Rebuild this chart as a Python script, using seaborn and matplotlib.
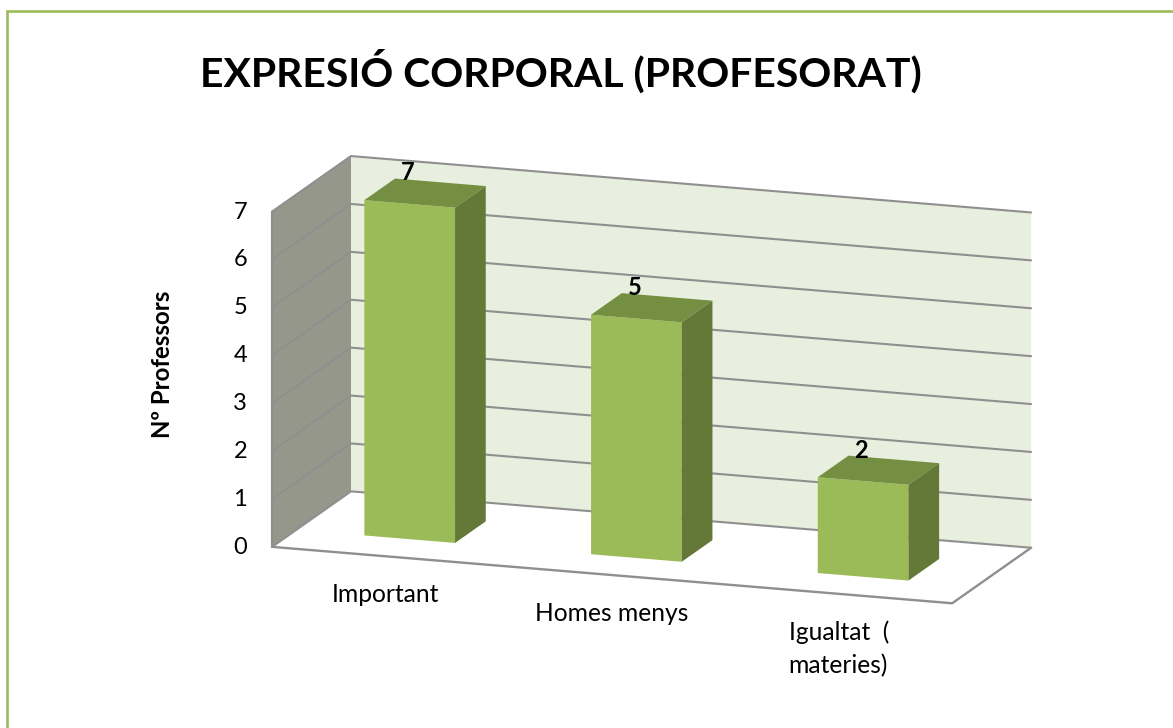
import matplotlib
matplotlib.use('Agg')
import matplotlib.pyplot as plt
import numpy as np
import pandas as pd
import seaborn as sns
from matplotlib.transforms import Affine2D

# dades
categories = ['Important', 'Homes menys', 'Igualtat  (\nmateries)']
valors = [7, 5, 2]
ticks_y = [0, 1, 2, 3, 4, 5, 6, 7]
titol = 'EXPRESIÓ CORPORAL (PROFESORAT)'
etiqueta_y = 'Nº Professors'

# colors
VERD = '#9BBB59'
VERD_TOP = '#758F42'
VERD_SIDE = '#647837'
PARET = '#E9EFDE'
PARET_ESQ = '#95978B'
GRIS = '#8F8F8F'

# projeccio falsa 3D -> pixels de la imatge
X0, Y0 = 409.7, 539.2
DX, DY = 226.7, 18.8
UNIT = 47.9
PROF_X, PROF_Y = 30.7, -21.6
AMPLE = 0.4
D_FRONT = -0.79
D_BACK = 1.78


def proj(c, v, d=0.0):
    return (X0 + DX * c + PROF_X * d, Y0 + DY * c - UNIT * v + PROF_Y * d)


sns.set_theme(style='white')
plt.rcParams['font.family'] = ['Lato', 'DejaVu Sans']

fig = plt.figure(figsize=(11.73, 7.28), dpi=100, facecolor='white')
ax = fig.add_axes([0, 0, 1, 1])

df = pd.DataFrame({'categoria': categories, 'valor': valors})
sns.barplot(data=df, x='categoria', y='valor', ax=ax, color=VERD, saturation=1,
            width=AMPLE, linewidth=0, zorder=3)

ax.set_xlim(0, 1173)
ax.set_ylim(728, 0)
ax.axis('off')

# cara frontal: les barres de seaborn inclinades amb la mateixa projeccio
cisalla = Affine2D(np.array([[DX, 0, X0], [DY, -UNIT, Y0], [0, 0, 1]])) + ax.transData
for barra in ax.patches:
    barra.set_transform(cisalla)

n = len(categories)
ini, fi = -0.5, n - 0.5
vmax = max(ticks_y)

# parets i terra
ax.fill(*zip(proj(ini, 0, D_BACK), proj(fi, 0, D_BACK), proj(fi, vmax, D_BACK), proj(ini, vmax, D_BACK)),
        color=PARET, lw=0, zorder=1)
ax.fill(*zip(proj(ini, 0, D_FRONT), proj(ini, 0, D_BACK), proj(ini, vmax, D_BACK), proj(ini, vmax, D_FRONT)),
        color=PARET_ESQ, lw=0, zorder=1)

for t in ticks_y:
    ax.plot(*zip(proj(ini, t, D_FRONT), proj(ini, t, D_BACK), proj(fi, t, D_BACK)),
            color=GRIS, lw=1.5, zorder=2)
    x, y = proj(ini, t, D_FRONT)
    ax.text(x - 25, y + 0.5, str(t), ha='right', va='center', fontsize=17, color='black')

ax.plot(*zip(proj(ini, vmax, D_FRONT), proj(ini, 0, D_FRONT), proj(fi, 0, D_FRONT), proj(fi, 0, D_BACK)),
        color=GRIS, lw=1.7, zorder=2)

# cares superior i lateral de cada barra
for i, v in enumerate(valors):
    e, d = i - AMPLE / 2, i + AMPLE / 2
    ax.fill(*zip(proj(e, v, 0), proj(d, v, 0), proj(d, v, 1), proj(e, v, 1)),
            color=VERD_TOP, lw=0, zorder=3)
    ax.fill(*zip(proj(d, 0, 0), proj(d, 0, 1), proj(d, v, 1), proj(d, v, 0)),
            color=VERD_SIDE, lw=0, zorder=3)
    x, y = proj(i, v, 0)
    ax.text(x - 2, y - 31, str(v), ha='center', va='center', fontsize=17,
            fontweight='bold', color='black', zorder=4)

# etiquetes de categoria
for i, cat in enumerate(categories):
    x, y = proj(i, 0, D_FRONT)
    ax.text(x, y + 27, cat, ha='center', va='top', fontsize=17.7, color='black',
            linespacing=1.5, multialignment='left')

ax.text(162, 364, etiqueta_y, rotation=90, ha='center', va='center', fontsize=17.3,
        fontweight='bold', color='black')
ax.text(561, 71, titol, ha='center', va='center', fontsize=29.4, fontweight='bold', color='black')

# marc verd (nomes dalt i esquerra)
ax.plot([6.5, 6.5, 1173], [728, 11, 11], color=VERD, lw=1.9, solid_joinstyle='miter', zorder=5)

fig.savefig('out.png', dpi=100, facecolor='white')
